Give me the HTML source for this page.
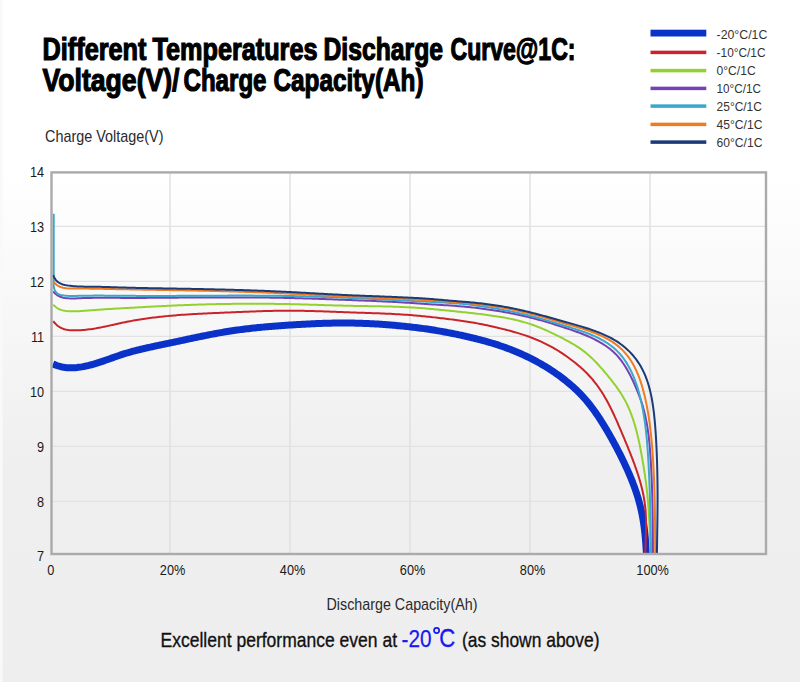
<!DOCTYPE html>
<html><head><meta charset="utf-8">
<style>
html,body{margin:0;padding:0;width:800px;height:682px;overflow:hidden;background:#fff}
svg{display:block}
text{font-family:"Liberation Sans",sans-serif}
.ax{font-size:14.8px;fill:#1a1a1a}
.lg{font-size:12.3px;fill:#333}
.tt{font-size:31.3px;font-weight:bold;fill:#000;stroke:#000;stroke-width:1.2px}
</style></head><body>
<svg width="800" height="682" viewBox="0 0 800 682">
<defs>
<linearGradient id="bg" x1="0" y1="0" x2="0" y2="1">
<stop offset="0" stop-color="#ffffff"/>
<stop offset="0.25" stop-color="#ffffff"/>
<stop offset="0.68" stop-color="#efefef"/>
<stop offset="1" stop-color="#eeeeee"/>
</linearGradient>
<clipPath id="plot"><rect x="52" y="173.5" width="714" height="380.5"/></clipPath>
</defs>
<rect width="800" height="682" fill="url(#bg)"/>
<rect x="0" y="0" width="2.6" height="682" fill="#f9f9f9"/>
<text x="42.5" y="59.8" class="tt" textLength="104.0" lengthAdjust="spacingAndGlyphs">Different</text><text x="152.5" y="59.8" class="tt" textLength="165.0" lengthAdjust="spacingAndGlyphs">Temperatures</text><text x="323.5" y="59.8" class="tt" textLength="119.5" lengthAdjust="spacingAndGlyphs">Discharge</text><text x="450.5" y="59.8" class="tt" textLength="125.0" lengthAdjust="spacingAndGlyphs">Curve@1C:</text><text x="42.5" y="91.0" class="tt" textLength="137.0" lengthAdjust="spacingAndGlyphs">Voltage(V)/</text><text x="183.5" y="91.0" class="tt" textLength="83.0" lengthAdjust="spacingAndGlyphs">Charge</text><text x="273.5" y="91.0" class="tt" textLength="150.0" lengthAdjust="spacingAndGlyphs">Capacity(Ah)</text>
<text x="45" y="142.4" style="font-size:16.2px;fill:#2a2a2a" textLength="118.5" lengthAdjust="spacingAndGlyphs">Charge Voltage(V)</text>
<rect x="650.5" y="29.70" width="55.8" height="6.80" fill="#0a32c8"/><text x="716.6" y="39.0" class="lg" textLength="50.7" lengthAdjust="spacingAndGlyphs">-20°C/1C</text><rect x="650.5" y="50.65" width="55.8" height="3.50" fill="#c8242a"/><text x="716.6" y="57.0" class="lg" textLength="48.9" lengthAdjust="spacingAndGlyphs">-10°C/1C</text><rect x="650.5" y="68.85" width="55.8" height="3.50" fill="#92d130"/><text x="716.6" y="75.0" class="lg" textLength="39.0" lengthAdjust="spacingAndGlyphs">0°C/1C</text><rect x="650.5" y="86.65" width="55.8" height="3.50" fill="#7443b3"/><text x="716.6" y="93.0" class="lg" textLength="44.3" lengthAdjust="spacingAndGlyphs">10°C/1C</text><rect x="650.5" y="104.35" width="55.8" height="3.50" fill="#3ba7cb"/><text x="716.6" y="111.0" class="lg" textLength="45.3" lengthAdjust="spacingAndGlyphs">25°C/1C</text><rect x="650.5" y="122.65" width="55.8" height="3.50" fill="#f07c22"/><text x="716.6" y="129.0" class="lg" textLength="45.8" lengthAdjust="spacingAndGlyphs">45°C/1C</text><rect x="650.5" y="140.35" width="55.8" height="3.50" fill="#1b3a78"/><text x="716.6" y="147.0" class="lg" textLength="45.8" lengthAdjust="spacingAndGlyphs">60°C/1C</text>
<line x1="170.0" y1="173" x2="170.0" y2="553" stroke="#dedede" stroke-width="1.3"/><line x1="290.0" y1="173" x2="290.0" y2="553" stroke="#dedede" stroke-width="1.3"/><line x1="410.0" y1="173" x2="410.0" y2="553" stroke="#dedede" stroke-width="1.3"/><line x1="530.0" y1="173" x2="530.0" y2="553" stroke="#dedede" stroke-width="1.3"/><line x1="650.0" y1="173" x2="650.0" y2="553" stroke="#dedede" stroke-width="1.3"/><line x1="52" y1="501.4" x2="766" y2="501.4" stroke="#e2e2e2" stroke-width="1.2"/><line x1="52" y1="446.4" x2="766" y2="446.4" stroke="#e2e2e2" stroke-width="1.2"/><line x1="52" y1="391.4" x2="766" y2="391.4" stroke="#e2e2e2" stroke-width="1.2"/><line x1="52" y1="336.4" x2="766" y2="336.4" stroke="#e2e2e2" stroke-width="1.2"/><line x1="52" y1="281.4" x2="766" y2="281.4" stroke="#e2e2e2" stroke-width="1.2"/><line x1="52" y1="226.4" x2="766" y2="226.4" stroke="#e2e2e2" stroke-width="1.2"/>
<g clip-path="url(#plot)">
<path d="M52.99,364.03 L54.52,364.62 56.04,365.19 57.58,365.73 59.13,366.22 60.70,366.64 62.29,366.99 63.90,367.28 65.51,367.50 67.14,367.65 68.77,367.75 70.40,367.80 72.03,367.80 73.67,367.75 75.29,367.66 76.92,367.52 78.54,367.34 80.16,367.13 81.78,366.88 83.39,366.59 84.99,366.28 86.60,365.94 88.19,365.57 89.78,365.17 91.37,364.75 92.95,364.32 94.52,363.86 96.08,363.39 97.64,362.90 99.20,362.41 100.75,361.90 102.30,361.38 103.84,360.85 105.38,360.31 106.92,359.77 108.45,359.23 109.99,358.68 111.52,358.14 113.05,357.59 114.59,357.05 116.12,356.51 117.66,355.98 119.20,355.45 120.74,354.94 122.29,354.43 123.83,353.94 125.39,353.46 126.94,352.99 128.50,352.53 130.07,352.09 131.63,351.65 133.20,351.22 134.78,350.81 136.35,350.40 137.93,350.00 139.51,349.61 141.09,349.23 142.68,348.85 144.27,348.48 145.86,348.12 147.45,347.76 149.04,347.40 150.63,347.05 152.23,346.71 153.82,346.37 155.42,346.03 157.02,345.69 158.62,345.35 160.22,345.02 161.82,344.69 163.41,344.35 165.01,344.02 166.61,343.69 168.21,343.35 169.81,343.02 171.41,342.68 173.00,342.34 174.60,342.00 176.20,341.66 177.79,341.32 179.39,340.98 180.98,340.64 182.58,340.30 184.17,339.96 185.77,339.62 187.36,339.28 188.96,338.94 190.55,338.60 192.15,338.26 193.74,337.92 195.34,337.59 196.94,337.26 198.53,336.93 200.13,336.60 201.72,336.27 203.32,335.95 204.92,335.63 206.51,335.31 208.11,335.00 209.71,334.68 211.31,334.38 212.91,334.07 214.51,333.77 216.11,333.48 217.71,333.18 219.31,332.90 220.91,332.61 222.51,332.34 224.12,332.06 225.72,331.80 227.33,331.53 228.93,331.28 230.54,331.03 232.15,330.78 233.76,330.55 235.37,330.31 236.98,330.09 238.59,329.86 240.21,329.65 241.82,329.44 243.44,329.23 245.05,329.03 246.67,328.84 248.29,328.65 249.90,328.46 251.52,328.28 253.14,328.10 254.76,327.93 256.38,327.76 258.00,327.59 259.62,327.43 261.25,327.28 262.87,327.13 264.49,326.98 266.12,326.83 267.74,326.69 269.36,326.55 270.99,326.41 272.61,326.28 274.24,326.15 275.87,326.03 277.49,325.90 279.12,325.78 280.74,325.66 282.37,325.55 284.00,325.43 285.63,325.32 287.25,325.21 288.88,325.10 290.51,324.99 292.14,324.89 293.76,324.79 295.39,324.69 297.02,324.59 298.65,324.49 300.28,324.40 301.90,324.30 303.53,324.21 305.16,324.13 306.79,324.04 308.42,323.96 310.05,323.88 311.67,323.80 313.30,323.73 314.93,323.66 316.56,323.59 318.19,323.53 319.82,323.47 321.45,323.41 323.07,323.36 324.70,323.30 326.33,323.26 327.96,323.21 329.59,323.18 331.22,323.14 332.85,323.11 334.48,323.08 336.10,323.06 337.73,323.04 339.36,323.02 340.99,323.01 342.62,323.01 344.25,323.01 345.88,323.01 347.51,323.02 349.14,323.03 350.76,323.05 352.39,323.08 354.02,323.11 355.65,323.14 357.28,323.18 358.91,323.22 360.54,323.27 362.17,323.32 363.79,323.38 365.42,323.44 367.05,323.51 368.68,323.58 370.31,323.66 371.93,323.74 373.56,323.83 375.19,323.92 376.82,324.01 378.44,324.11 380.07,324.22 381.70,324.33 383.32,324.44 384.95,324.56 386.57,324.68 388.20,324.80 389.82,324.93 391.45,325.07 393.07,325.21 394.70,325.35 396.32,325.50 397.94,325.65 399.57,325.80 401.19,325.96 402.81,326.12 404.43,326.29 406.05,326.46 407.67,326.63 409.29,326.81 410.91,327.00 412.53,327.18 414.15,327.37 415.77,327.57 417.39,327.77 419.00,327.97 420.62,328.18 422.23,328.39 423.85,328.62 425.46,328.84 427.07,329.07 428.69,329.31 430.30,329.55 431.91,329.80 433.52,330.05 435.12,330.31 436.73,330.58 438.34,330.85 439.95,331.12 441.55,331.40 443.15,331.69 444.76,331.98 446.36,332.27 447.96,332.57 449.56,332.88 451.16,333.19 452.76,333.51 454.36,333.83 455.95,334.16 457.55,334.49 459.14,334.83 460.74,335.18 462.33,335.52 463.92,335.88 465.51,336.24 467.10,336.60 468.69,336.97 470.28,337.35 471.86,337.73 473.45,338.11 475.03,338.50 476.61,338.90 478.19,339.30 479.77,339.71 481.35,340.12 482.92,340.54 484.50,340.97 486.07,341.41 487.64,341.85 489.20,342.30 490.77,342.76 492.33,343.23 493.89,343.71 495.44,344.19 496.99,344.69 498.54,345.19 500.09,345.71 501.63,346.23 503.17,346.77 504.71,347.31 506.24,347.87 507.77,348.43 509.30,349.01 510.82,349.59 512.33,350.19 513.85,350.79 515.36,351.41 516.86,352.04 518.36,352.68 519.86,353.32 521.35,353.98 522.84,354.65 524.32,355.33 525.80,356.02 527.27,356.73 528.74,357.44 530.20,358.16 531.66,358.90 533.11,359.64 534.56,360.40 536.00,361.17 537.43,361.95 538.86,362.74 540.29,363.54 541.70,364.35 543.11,365.18 544.52,366.01 545.91,366.86 547.30,367.71 548.69,368.58 550.06,369.46 551.43,370.35 552.79,371.25 554.15,372.16 555.49,373.09 556.83,374.02 558.16,374.97 559.48,375.92 560.79,376.89 562.09,377.87 563.39,378.86 564.68,379.86 565.95,380.88 567.22,381.90 568.48,382.94 569.72,383.99 570.96,385.05 572.18,386.12 573.40,387.21 574.60,388.30 575.79,389.41 576.97,390.53 578.13,391.67 579.28,392.81 580.42,393.97 581.54,395.15 582.65,396.33 583.74,397.53 584.82,398.75 585.89,399.97 586.94,401.21 587.97,402.46 588.99,403.73 590.00,405.00 590.99,406.29 591.97,407.59 592.94,408.89 593.90,410.21 594.85,411.54 595.78,412.87 596.71,414.21 597.62,415.56 598.53,416.92 599.43,418.28 600.32,419.65 601.20,421.02 602.07,422.40 602.94,423.78 603.79,425.17 604.65,426.57 605.49,427.96 606.33,429.36 607.16,430.77 607.98,432.18 608.80,433.59 609.62,435.01 610.42,436.43 611.22,437.85 612.02,439.28 612.81,440.71 613.59,442.14 614.37,443.58 615.15,445.01 615.91,446.45 616.68,447.90 617.43,449.34 618.19,450.79 618.93,452.25 619.67,453.70 620.41,455.16 621.14,456.62 621.86,458.08 622.57,459.55 623.28,461.02 623.99,462.49 624.68,463.96 625.37,465.44 626.06,466.92 626.73,468.41 627.40,469.90 628.06,471.39 628.72,472.88 629.36,474.38 630.00,475.88 630.63,477.38 631.25,478.89 631.86,480.40 632.46,481.91 633.05,483.43 633.63,484.95 634.20,486.48 634.76,488.01 635.30,489.54 635.83,491.08 636.35,492.62 636.85,494.17 637.34,495.72 637.82,497.28 638.28,498.84 638.73,500.40 639.16,501.97 639.58,503.54 639.99,505.11 640.38,506.69 640.75,508.27 641.12,509.85 641.47,511.44 641.80,513.03 642.12,514.63 642.43,516.22 642.72,517.82 642.99,519.42 643.26,521.03 643.51,522.63 643.75,524.24 643.97,525.85 644.19,527.47 644.39,529.08 644.58,530.70 644.76,532.32 644.93,533.94 645.10,535.56 645.25,537.18 645.40,538.81 645.53,540.43 645.66,542.06 645.79,543.69 645.90,545.32 646.01,546.94 646.12,548.57 646.22,550.20 646.32,551.83 646.41,553.46 646.50,555.09 646.59,556.72 646.67,558.35 646.76,559.98" fill="none" stroke="#0a32c8" stroke-width="7.0" stroke-linejoin="round"/><path d="M53.17,321.25 L54.32,322.50 55.49,323.73 56.70,324.89 57.95,325.97 59.28,326.92 60.69,327.74 62.18,328.42 63.73,328.97 65.34,329.42 66.99,329.76 68.68,330.01 70.40,330.18 72.14,330.28 73.89,330.33 75.63,330.33 77.37,330.30 79.09,330.24 80.80,330.15 82.49,330.04 84.17,329.90 85.84,329.74 87.50,329.56 89.16,329.36 90.80,329.14 92.44,328.90 94.08,328.64 95.72,328.37 97.35,328.08 98.98,327.78 100.62,327.47 102.25,327.14 103.89,326.81 105.52,326.46 107.16,326.11 108.79,325.75 110.43,325.39 112.07,325.03 113.71,324.66 115.34,324.30 116.98,323.93 118.62,323.57 120.26,323.21 121.91,322.85 123.55,322.50 125.19,322.16 126.83,321.83 128.48,321.51 130.12,321.19 131.77,320.89 133.42,320.59 135.07,320.30 136.72,320.01 138.37,319.74 140.02,319.47 141.67,319.21 143.33,318.96 144.98,318.72 146.64,318.48 148.30,318.25 149.96,318.03 151.62,317.81 153.28,317.60 154.95,317.40 156.61,317.20 158.28,317.01 159.94,316.82 161.61,316.64 163.27,316.47 164.94,316.30 166.61,316.13 168.27,315.97 169.94,315.82 171.61,315.67 173.28,315.53 174.95,315.39 176.62,315.25 178.29,315.12 179.96,315.00 181.63,314.87 183.30,314.76 184.97,314.64 186.64,314.53 188.31,314.42 189.98,314.32 191.65,314.22 193.32,314.12 195.00,314.02 196.67,313.93 198.34,313.84 200.01,313.75 201.68,313.66 203.36,313.58 205.03,313.50 206.70,313.42 208.38,313.34 210.05,313.26 211.72,313.19 213.40,313.11 215.07,313.04 216.74,312.97 218.42,312.90 220.09,312.82 221.77,312.75 223.44,312.68 225.11,312.61 226.79,312.55 228.46,312.48 230.14,312.41 231.81,312.34 233.48,312.26 235.16,312.19 236.83,312.12 238.51,312.05 240.18,311.98 241.85,311.91 243.53,311.85 245.20,311.78 246.87,311.71 248.55,311.64 250.22,311.58 251.90,311.51 253.57,311.45 255.24,311.39 256.92,311.33 258.59,311.27 260.27,311.22 261.94,311.16 263.61,311.11 265.29,311.06 266.96,311.02 268.64,310.97 270.31,310.93 271.98,310.89 273.66,310.86 275.33,310.82 277.00,310.80 278.68,310.77 280.35,310.75 282.03,310.73 283.70,310.71 285.37,310.70 287.05,310.70 288.72,310.69 290.39,310.69 292.07,310.70 293.74,310.71 295.42,310.72 297.09,310.74 298.76,310.76 300.44,310.79 302.11,310.82 303.78,310.85 305.46,310.88 307.13,310.92 308.81,310.96 310.48,311.00 312.15,311.05 313.83,311.10 315.50,311.15 317.18,311.20 318.85,311.25 320.52,311.31 322.20,311.37 323.87,311.43 325.54,311.49 327.22,311.55 328.89,311.61 330.57,311.67 332.24,311.73 333.91,311.80 335.59,311.86 337.26,311.92 338.94,311.99 340.61,312.05 342.29,312.11 343.96,312.17 345.63,312.23 347.31,312.30 348.98,312.35 350.66,312.41 352.33,312.47 354.01,312.53 355.68,312.58 357.35,312.64 359.03,312.69 360.70,312.74 362.38,312.80 364.05,312.85 365.73,312.90 367.40,312.96 369.08,313.01 370.75,313.07 372.42,313.13 374.10,313.18 375.77,313.24 377.45,313.30 379.12,313.37 380.79,313.43 382.47,313.50 384.14,313.57 385.81,313.64 387.49,313.71 389.16,313.79 390.83,313.87 392.50,313.95 394.18,314.04 395.85,314.13 397.52,314.22 399.19,314.32 400.86,314.42 402.53,314.52 404.20,314.63 405.87,314.75 407.54,314.87 409.21,314.99 410.88,315.12 412.55,315.26 414.22,315.40 415.88,315.54 417.55,315.69 419.22,315.84 420.89,316.00 422.55,316.16 424.22,316.32 425.89,316.49 427.55,316.66 429.22,316.83 430.89,317.01 432.55,317.19 434.22,317.37 435.88,317.56 437.54,317.75 439.21,317.94 440.87,318.14 442.53,318.34 444.20,318.54 445.86,318.74 447.52,318.95 449.18,319.16 450.84,319.37 452.50,319.59 454.16,319.81 455.82,320.03 457.48,320.26 459.14,320.48 460.79,320.71 462.45,320.95 464.11,321.18 465.76,321.43 467.42,321.67 469.07,321.93 470.72,322.20 472.37,322.47 474.02,322.76 475.66,323.05 477.31,323.36 478.95,323.67 480.60,323.99 482.24,324.31 483.88,324.65 485.52,324.99 487.15,325.34 488.79,325.69 490.43,326.06 492.06,326.42 493.70,326.80 495.33,327.18 496.96,327.56 498.59,327.95 500.22,328.35 501.85,328.74 503.48,329.15 505.11,329.56 506.74,329.97 508.36,330.40 509.98,330.83 511.60,331.26 513.22,331.71 514.83,332.17 516.44,332.63 518.05,333.11 519.66,333.60 521.25,334.09 522.85,334.61 524.44,335.13 526.03,335.67 527.61,336.22 529.18,336.78 530.75,337.37 532.31,337.96 533.87,338.58 535.42,339.20 536.97,339.85 538.50,340.51 540.03,341.18 541.56,341.87 543.07,342.58 544.58,343.30 546.08,344.04 547.57,344.79 549.05,345.56 550.53,346.35 552.00,347.15 553.45,347.96 554.90,348.80 556.34,349.65 557.77,350.51 559.19,351.39 560.59,352.29 561.99,353.20 563.38,354.13 564.76,355.08 566.12,356.04 567.48,357.01 568.83,357.99 570.17,358.99 571.51,360.00 572.83,361.01 574.15,362.04 575.46,363.08 576.76,364.13 578.05,365.19 579.32,366.27 580.58,367.36 581.83,368.47 583.06,369.59 584.28,370.73 585.47,371.89 586.65,373.07 587.81,374.27 588.95,375.48 590.07,376.71 591.18,377.96 592.27,379.22 593.33,380.50 594.38,381.80 595.42,383.11 596.43,384.43 597.43,385.77 598.40,387.12 599.36,388.49 600.30,389.87 601.22,391.26 602.13,392.66 603.02,394.08 603.88,395.50 604.74,396.94 605.57,398.39 606.40,399.84 607.20,401.31 608.00,402.78 608.78,404.26 609.55,405.75 610.31,407.24 611.05,408.74 611.79,410.24 612.51,411.75 613.23,413.27 613.94,414.79 614.64,416.32 615.33,417.85 616.02,419.38 616.70,420.91 617.38,422.45 618.05,423.99 618.72,425.54 619.38,427.08 620.04,428.63 620.70,430.18 621.36,431.72 622.01,433.27 622.67,434.82 623.32,436.37 623.97,437.92 624.62,439.47 625.26,441.02 625.90,442.57 626.54,444.12 627.18,445.68 627.81,447.23 628.44,448.79 629.07,450.35 629.69,451.91 630.31,453.47 630.92,455.03 631.53,456.60 632.13,458.17 632.73,459.73 633.32,461.31 633.91,462.88 634.49,464.46 635.06,466.03 635.62,467.61 636.18,469.20 636.72,470.78 637.26,472.37 637.78,473.96 638.30,475.56 638.80,477.15 639.29,478.75 639.76,480.36 640.23,481.96 640.67,483.57 641.11,485.19 641.53,486.80 641.93,488.42 642.31,490.05 642.68,491.67 643.03,493.31 643.36,494.94 643.68,496.58 643.97,498.22 644.25,499.86 644.50,501.51 644.74,503.16 644.95,504.81 645.14,506.46 645.32,508.12 645.47,509.78 645.60,511.44 645.71,513.10 645.80,514.77 645.87,516.44 645.93,518.11 645.97,519.78 646.00,521.45 646.02,523.12 646.03,524.80 646.02,526.47 646.01,528.15 645.98,529.82 645.95,531.50 645.92,533.17 645.88,534.85 645.83,536.53 645.78,538.20 645.73,539.88 645.67,541.56 645.62,543.24 645.56,544.91 645.50,546.59 645.44,548.27 645.38,549.94 645.32,551.62 645.26,553.30 645.20,554.97 645.15,556.65 645.09,558.33 645.04,560.00" fill="none" stroke="#c8242a" stroke-width="2.0" stroke-linejoin="round"/><path d="M53.16,304.68 L54.42,305.86 55.71,306.98 57.06,308.01 58.49,308.88 60.01,309.57 61.62,310.10 63.28,310.50 64.99,310.79 66.73,310.99 68.48,311.13 70.22,311.22 71.95,311.28 73.68,311.29 75.40,311.28 77.12,311.24 78.83,311.18 80.54,311.09 82.24,310.98 83.94,310.86 85.64,310.73 87.34,310.60 89.04,310.45 90.74,310.31 92.44,310.17 94.14,310.03 95.84,309.90 97.54,309.77 99.24,309.65 100.95,309.53 102.66,309.42 104.36,309.30 106.07,309.19 107.78,309.09 109.49,308.98 111.20,308.88 112.91,308.78 114.62,308.68 116.33,308.58 118.04,308.49 119.75,308.39 121.46,308.30 123.17,308.20 124.88,308.11 126.59,308.01 128.30,307.92 130.01,307.82 131.72,307.72 133.42,307.63 135.13,307.53 136.84,307.44 138.55,307.34 140.26,307.25 141.97,307.15 143.68,307.06 145.38,306.96 147.09,306.87 148.80,306.78 150.51,306.69 152.21,306.60 153.92,306.50 155.63,306.42 157.34,306.33 159.05,306.24 160.75,306.15 162.46,306.07 164.17,305.98 165.88,305.90 167.59,305.82 169.30,305.74 171.00,305.66 172.71,305.58 174.42,305.51 176.13,305.44 177.84,305.36 179.55,305.29 181.26,305.22 182.97,305.15 184.68,305.09 186.39,305.02 188.10,304.96 189.81,304.90 191.52,304.84 193.23,304.78 194.94,304.72 196.65,304.67 198.36,304.61 200.07,304.56 201.78,304.51 203.49,304.46 205.20,304.41 206.91,304.37 208.62,304.32 210.33,304.28 212.04,304.24 213.75,304.20 215.46,304.16 217.17,304.12 218.88,304.09 220.60,304.06 222.31,304.03 224.02,304.00 225.73,303.97 227.44,303.94 229.15,303.92 230.86,303.89 232.57,303.87 234.28,303.85 236.00,303.83 237.71,303.81 239.42,303.80 241.13,303.79 242.84,303.77 244.55,303.76 246.26,303.76 247.98,303.75 249.69,303.74 251.40,303.74 253.11,303.74 254.82,303.74 256.53,303.74 258.24,303.75 259.96,303.75 261.67,303.76 263.38,303.77 265.09,303.78 266.80,303.79 268.51,303.80 270.22,303.82 271.93,303.84 273.64,303.86 275.36,303.88 277.07,303.90 278.78,303.93 280.49,303.95 282.20,303.98 283.91,304.01 285.62,304.04 287.33,304.08 289.04,304.11 290.75,304.15 292.46,304.19 294.17,304.23 295.88,304.27 297.59,304.32 299.30,304.36 301.02,304.41 302.73,304.45 304.44,304.50 306.15,304.55 307.86,304.60 309.57,304.65 311.28,304.71 312.99,304.76 314.70,304.81 316.41,304.86 318.12,304.92 319.83,304.97 321.54,305.02 323.25,305.08 324.96,305.13 326.67,305.18 328.38,305.23 330.09,305.28 331.80,305.34 333.51,305.39 335.22,305.43 336.93,305.48 338.64,305.53 340.35,305.58 342.06,305.62 343.77,305.66 345.48,305.71 347.19,305.75 348.90,305.78 350.61,305.82 352.32,305.86 354.03,305.89 355.75,305.92 357.46,305.95 359.17,305.98 360.88,306.01 362.59,306.04 364.30,306.07 366.01,306.09 367.72,306.12 369.44,306.15 371.15,306.18 372.86,306.21 374.57,306.24 376.28,306.27 377.99,306.30 379.70,306.33 381.41,306.37 383.12,306.40 384.83,306.44 386.54,306.49 388.25,306.53 389.96,306.58 391.67,306.62 393.38,306.68 395.09,306.73 396.80,306.79 398.51,306.85 400.22,306.92 401.93,306.99 403.64,307.07 405.34,307.15 407.05,307.23 408.76,307.32 410.47,307.41 412.17,307.51 413.88,307.62 415.59,307.73 417.29,307.84 419.00,307.96 420.70,308.09 422.41,308.21 424.11,308.35 425.82,308.49 427.52,308.63 429.23,308.77 430.93,308.92 432.63,309.07 434.34,309.23 436.04,309.39 437.74,309.55 439.45,309.71 441.15,309.88 442.85,310.05 444.55,310.22 446.26,310.39 447.96,310.57 449.66,310.74 451.37,310.92 453.07,311.10 454.77,311.28 456.47,311.46 458.18,311.64 459.88,311.82 461.58,312.00 463.28,312.18 464.99,312.36 466.69,312.54 468.39,312.72 470.10,312.91 471.80,313.10 473.50,313.29 475.20,313.48 476.91,313.68 478.61,313.88 480.31,314.08 482.01,314.29 483.71,314.50 485.41,314.72 487.11,314.95 488.80,315.18 490.50,315.41 492.20,315.65 493.89,315.90 495.58,316.16 497.27,316.43 498.97,316.70 500.65,316.98 502.34,317.27 504.03,317.57 505.71,317.88 507.39,318.20 509.07,318.53 510.75,318.87 512.42,319.23 514.09,319.60 515.76,319.98 517.42,320.38 519.08,320.79 520.73,321.22 522.38,321.66 524.02,322.12 525.66,322.60 527.30,323.10 528.92,323.61 530.55,324.14 532.16,324.70 533.77,325.27 535.38,325.86 536.98,326.46 538.57,327.09 540.16,327.72 541.74,328.38 543.32,329.05 544.89,329.73 546.46,330.42 548.02,331.13 549.58,331.85 551.13,332.58 552.68,333.32 554.22,334.07 555.76,334.83 557.30,335.60 558.83,336.37 560.35,337.15 561.87,337.94 563.39,338.73 564.91,339.53 566.41,340.34 567.92,341.15 569.41,341.97 570.90,342.80 572.38,343.65 573.85,344.51 575.30,345.39 576.74,346.28 578.16,347.20 579.57,348.14 580.96,349.10 582.33,350.09 583.68,351.11 585.01,352.15 586.32,353.22 587.61,354.31 588.89,355.43 590.15,356.56 591.39,357.72 592.62,358.90 593.83,360.09 595.03,361.30 596.22,362.53 597.39,363.78 598.56,365.03 599.71,366.30 600.86,367.58 601.99,368.87 603.12,370.17 604.23,371.48 605.35,372.80 606.45,374.12 607.55,375.44 608.64,376.77 609.73,378.11 610.81,379.45 611.88,380.80 612.93,382.16 613.98,383.52 615.01,384.89 616.03,386.27 617.03,387.66 618.02,389.06 618.99,390.46 619.94,391.88 620.87,393.31 621.77,394.75 622.66,396.21 623.52,397.67 624.36,399.15 625.17,400.64 625.95,402.15 626.72,403.67 627.45,405.20 628.16,406.74 628.85,408.30 629.52,409.86 630.17,411.44 630.79,413.02 631.40,414.62 631.98,416.22 632.55,417.83 633.10,419.45 633.63,421.07 634.14,422.70 634.64,424.34 635.12,425.98 635.58,427.63 636.04,429.28 636.47,430.94 636.90,432.60 637.31,434.26 637.71,435.93 638.10,437.60 638.48,439.27 638.85,440.95 639.21,442.62 639.56,444.30 639.90,445.98 640.24,447.67 640.56,449.35 640.88,451.04 641.20,452.73 641.51,454.41 641.82,456.10 642.12,457.79 642.41,459.48 642.71,461.17 642.99,462.86 643.28,464.55 643.56,466.24 643.83,467.94 644.10,469.63 644.36,471.32 644.62,473.01 644.87,474.71 645.11,476.40 645.35,478.10 645.59,479.79 645.81,481.49 646.03,483.19 646.24,484.88 646.45,486.58 646.65,488.28 646.84,489.98 647.03,491.68 647.20,493.38 647.38,495.09 647.54,496.79 647.70,498.49 647.86,500.19 648.01,501.90 648.15,503.60 648.29,505.31 648.42,507.01 648.55,508.72 648.67,510.43 648.79,512.13 648.90,513.84 649.01,515.55 649.11,517.25 649.21,518.96 649.31,520.67 649.40,522.38 649.49,524.09 649.57,525.80 649.65,527.50 649.73,529.21 649.80,530.92 649.87,532.63 649.94,534.34 650.00,536.05 650.06,537.76 650.12,539.47 650.17,541.18 650.22,542.89 650.27,544.60 650.32,546.31 650.36,548.02 650.40,549.73 650.44,551.44 650.48,553.16 650.52,554.87 650.55,556.58 650.58,558.29 650.62,560.00" fill="none" stroke="#92d130" stroke-width="2.0" stroke-linejoin="round"/><path d="M53.15,291.48 L54.40,292.74 55.68,293.95 57.03,295.04 58.48,295.97 60.04,296.71 61.69,297.28 63.40,297.70 65.15,298.00 66.91,298.21 68.67,298.35 70.43,298.43 72.19,298.45 73.95,298.43 75.71,298.39 77.47,298.32 79.23,298.25 80.99,298.18 82.74,298.11 84.50,298.06 86.26,298.01 88.01,297.97 89.77,297.93 91.53,297.90 93.28,297.87 95.04,297.85 96.79,297.83 98.55,297.82 100.30,297.81 102.06,297.81 103.81,297.81 105.57,297.81 107.32,297.81 109.08,297.82 110.83,297.83 112.59,297.83 114.34,297.84 116.09,297.85 117.85,297.86 119.60,297.87 121.36,297.88 123.11,297.89 124.87,297.90 126.62,297.90 128.38,297.91 130.13,297.91 131.89,297.91 133.64,297.91 135.40,297.91 137.15,297.91 138.91,297.90 140.66,297.90 142.42,297.89 144.17,297.88 145.93,297.88 147.68,297.87 149.44,297.86 151.19,297.85 152.95,297.83 154.70,297.82 156.46,297.81 158.22,297.80 159.97,297.78 161.73,297.77 163.48,297.75 165.24,297.74 166.99,297.73 168.75,297.71 170.50,297.70 172.26,297.68 174.02,297.67 175.77,297.65 177.53,297.64 179.28,297.62 181.04,297.61 182.79,297.60 184.55,297.58 186.31,297.57 188.06,297.56 189.82,297.54 191.57,297.53 193.33,297.52 195.08,297.51 196.84,297.49 198.59,297.48 200.35,297.47 202.11,297.46 203.86,297.45 205.62,297.44 207.37,297.43 209.13,297.43 210.88,297.42 212.64,297.41 214.39,297.41 216.15,297.40 217.90,297.39 219.66,297.39 221.42,297.39 223.17,297.38 224.93,297.38 226.68,297.38 228.44,297.38 230.19,297.38 231.95,297.38 233.70,297.38 235.46,297.38 237.21,297.38 238.97,297.39 240.72,297.39 242.48,297.40 244.24,297.41 245.99,297.42 247.75,297.42 249.50,297.44 251.26,297.45 253.01,297.46 254.77,297.47 256.52,297.49 258.28,297.50 260.03,297.52 261.79,297.54 263.54,297.56 265.30,297.58 267.05,297.60 268.81,297.62 270.56,297.65 272.32,297.68 274.07,297.70 275.83,297.73 277.58,297.76 279.34,297.79 281.09,297.83 282.85,297.86 284.60,297.90 286.36,297.94 288.11,297.98 289.86,298.02 291.62,298.06 293.37,298.10 295.13,298.15 296.88,298.20 298.64,298.25 300.39,298.30 302.15,298.35 303.90,298.40 305.66,298.45 307.41,298.51 309.16,298.56 310.92,298.62 312.67,298.68 314.43,298.74 316.18,298.80 317.94,298.86 319.69,298.92 321.44,298.98 323.20,299.05 324.95,299.11 326.71,299.17 328.46,299.24 330.22,299.30 331.97,299.37 333.72,299.44 335.48,299.50 337.23,299.57 338.99,299.64 340.74,299.70 342.49,299.77 344.25,299.84 346.00,299.91 347.76,299.97 349.51,300.04 351.27,300.11 353.02,300.17 354.77,300.24 356.53,300.31 358.28,300.38 360.04,300.44 361.79,300.51 363.54,300.58 365.30,300.65 367.05,300.72 368.81,300.79 370.56,300.86 372.31,300.94 374.07,301.01 375.82,301.08 377.57,301.16 379.33,301.24 381.08,301.32 382.83,301.40 384.59,301.48 386.34,301.56 388.09,301.65 389.84,301.74 391.60,301.83 393.35,301.92 395.10,302.01 396.85,302.11 398.60,302.21 400.36,302.31 402.11,302.41 403.86,302.52 405.61,302.63 407.36,302.74 409.11,302.86 410.86,302.98 412.61,303.10 414.36,303.22 416.11,303.34 417.86,303.46 419.61,303.59 421.36,303.70 423.11,303.82 424.86,303.93 426.61,304.05 428.37,304.16 430.12,304.27 431.87,304.38 433.62,304.48 435.37,304.59 437.13,304.70 438.88,304.81 440.63,304.92 442.38,305.03 444.13,305.14 445.89,305.25 447.64,305.37 449.39,305.49 451.14,305.61 452.89,305.74 454.64,305.87 456.39,306.00 458.14,306.14 459.89,306.28 461.64,306.43 463.39,306.58 465.13,306.74 466.88,306.91 468.63,307.08 470.37,307.26 472.12,307.44 473.86,307.63 475.61,307.83 477.35,308.04 479.09,308.25 480.83,308.47 482.57,308.70 484.31,308.93 486.05,309.17 487.79,309.42 489.52,309.67 491.26,309.93 493.00,310.19 494.73,310.46 496.46,310.74 498.19,311.02 499.93,311.31 501.66,311.60 503.39,311.91 505.11,312.21 506.84,312.53 508.57,312.84 510.29,313.17 512.01,313.50 513.73,313.85 515.45,314.19 517.17,314.55 518.89,314.91 520.60,315.28 522.32,315.66 524.03,316.05 525.74,316.45 527.44,316.85 529.15,317.27 530.85,317.69 532.55,318.12 534.25,318.56 535.95,319.01 537.65,319.47 539.34,319.94 541.03,320.41 542.72,320.89 544.41,321.38 546.10,321.87 547.79,322.37 549.48,322.88 551.17,323.40 552.85,323.91 554.54,324.44 556.22,324.97 557.90,325.50 559.59,326.04 561.27,326.58 562.96,327.13 564.64,327.68 566.32,328.23 568.01,328.79 569.69,329.35 571.37,329.92 573.04,330.50 574.71,331.09 576.38,331.69 578.04,332.30 579.70,332.92 581.35,333.55 583.00,334.20 584.63,334.86 586.26,335.54 587.88,336.23 589.48,336.94 591.08,337.67 592.67,338.42 594.24,339.20 595.80,339.99 597.35,340.81 598.88,341.65 600.40,342.51 601.90,343.40 603.38,344.32 604.83,345.26 606.27,346.23 607.67,347.24 609.06,348.27 610.41,349.33 611.74,350.43 613.03,351.56 614.29,352.72 615.52,353.92 616.71,355.16 617.86,356.42 618.98,357.73 620.07,359.06 621.13,360.43 622.15,361.82 623.15,363.24 624.11,364.68 625.06,366.15 625.97,367.63 626.87,369.13 627.74,370.65 628.59,372.19 629.42,373.74 630.23,375.30 631.02,376.87 631.80,378.46 632.56,380.05 633.30,381.65 634.03,383.26 634.74,384.88 635.45,386.50 636.14,388.12 636.82,389.75 637.49,391.39 638.15,393.02 638.80,394.66 639.43,396.30 640.04,397.95 640.63,399.60 641.21,401.26 641.76,402.92 642.29,404.59 642.80,406.27 643.28,407.95 643.74,409.64 644.18,411.33 644.60,413.03 645.01,414.74 645.39,416.44 645.75,418.16 646.10,419.87 646.43,421.59 646.74,423.31 647.04,425.04 647.33,426.77 647.60,428.50 647.86,430.24 648.10,431.97 648.33,433.71 648.55,435.45 648.76,437.19 648.96,438.94 649.15,440.68 649.33,442.43 649.50,444.18 649.66,445.93 649.81,447.68 649.96,449.43 650.10,451.19 650.23,452.94 650.36,454.69 650.48,456.45 650.60,458.20 650.71,459.96 650.82,461.71 650.92,463.47 651.02,465.22 651.12,466.97 651.22,468.73 651.31,470.48 651.39,472.24 651.48,473.99 651.56,475.75 651.63,477.50 651.71,479.26 651.78,481.02 651.84,482.77 651.91,484.53 651.97,486.28 652.03,488.04 652.09,489.79 652.14,491.55 652.19,493.30 652.24,495.06 652.29,496.81 652.33,498.57 652.37,500.32 652.41,502.08 652.45,503.83 652.49,505.59 652.52,507.34 652.55,509.10 652.58,510.85 652.61,512.61 652.64,514.36 652.66,516.12 652.68,517.87 652.71,519.63 652.73,521.38 652.74,523.14 652.76,524.90 652.78,526.65 652.79,528.41 652.81,530.16 652.82,531.92 652.83,533.67 652.84,535.43 652.85,537.18 652.86,538.94 652.87,540.69 652.87,542.45 652.88,544.20 652.89,545.96 652.89,547.71 652.90,549.47 652.90,551.22 652.90,552.98 652.91,554.73 652.91,556.49 652.92,558.24 652.92,560.00" fill="none" stroke="#7443b3" stroke-width="2.0" stroke-linejoin="round"/><path d="M53.70,213.80 L53.70,286.00 L53.57,286.09 53.99,287.86 54.50,289.57 55.21,291.13 56.20,292.48 57.46,293.59 58.94,294.41 60.59,294.99 62.34,295.36 64.15,295.60 65.97,295.75 67.78,295.86 69.57,295.92 71.35,295.95 73.12,295.95 74.88,295.93 76.64,295.90 78.40,295.85 80.16,295.81 81.92,295.77 83.67,295.73 85.43,295.70 87.20,295.68 88.96,295.65 90.72,295.64 92.49,295.63 94.25,295.62 96.02,295.61 97.79,295.61 99.55,295.61 101.32,295.62 103.09,295.62 104.86,295.63 106.63,295.64 108.40,295.65 110.17,295.67 111.94,295.68 113.72,295.70 115.49,295.71 117.26,295.73 119.03,295.75 120.80,295.76 122.57,295.78 124.34,295.79 126.11,295.81 127.88,295.82 129.65,295.84 131.42,295.85 133.19,295.86 134.96,295.87 136.73,295.88 138.50,295.88 140.26,295.89 142.03,295.90 143.80,295.90 145.57,295.91 147.33,295.91 149.10,295.92 150.87,295.92 152.63,295.92 154.40,295.92 156.17,295.92 157.93,295.92 159.70,295.92 161.47,295.92 163.23,295.92 165.00,295.91 166.77,295.91 168.53,295.90 170.30,295.90 172.06,295.89 173.83,295.89 175.60,295.88 177.37,295.87 179.13,295.87 180.90,295.86 182.67,295.85 184.43,295.84 186.20,295.83 187.97,295.82 189.73,295.81 191.50,295.80 193.27,295.80 195.04,295.79 196.80,295.78 198.57,295.77 200.34,295.76 202.11,295.75 203.87,295.74 205.64,295.73 207.41,295.72 209.18,295.71 210.94,295.70 212.71,295.69 214.48,295.68 216.25,295.67 218.01,295.66 219.78,295.65 221.55,295.65 223.32,295.64 225.08,295.63 226.85,295.63 228.62,295.62 230.39,295.62 232.16,295.61 233.92,295.61 235.69,295.61 237.46,295.60 239.23,295.60 240.99,295.60 242.76,295.60 244.53,295.60 246.30,295.60 248.07,295.61 249.83,295.61 251.60,295.61 253.37,295.62 255.14,295.63 256.91,295.63 258.67,295.64 260.44,295.65 262.21,295.66 263.98,295.68 265.74,295.69 267.51,295.70 269.28,295.72 271.05,295.74 272.81,295.76 274.58,295.78 276.35,295.80 278.12,295.82 279.88,295.85 281.65,295.87 283.42,295.90 285.19,295.93 286.95,295.96 288.72,295.99 290.49,296.03 292.26,296.07 294.02,296.10 295.79,296.14 297.56,296.18 299.32,296.23 301.09,296.27 302.86,296.32 304.63,296.37 306.39,296.42 308.16,296.47 309.93,296.52 311.69,296.57 313.46,296.63 315.23,296.68 316.99,296.74 318.76,296.80 320.53,296.86 322.29,296.92 324.06,296.98 325.83,297.04 327.59,297.11 329.36,297.17 331.12,297.24 332.89,297.30 334.66,297.37 336.42,297.44 338.19,297.51 339.96,297.58 341.72,297.65 343.49,297.72 345.25,297.79 347.02,297.87 348.78,297.94 350.55,298.01 352.32,298.09 354.08,298.16 355.85,298.24 357.61,298.31 359.38,298.39 361.14,298.47 362.91,298.54 364.68,298.62 366.44,298.70 368.21,298.78 369.97,298.86 371.74,298.94 373.50,299.02 375.27,299.10 377.03,299.18 378.80,299.27 380.56,299.35 382.33,299.43 384.10,299.52 385.86,299.60 387.63,299.69 389.39,299.78 391.16,299.86 392.92,299.95 394.69,300.04 396.45,300.13 398.22,300.22 399.98,300.31 401.75,300.40 403.52,300.49 405.28,300.58 407.05,300.67 408.81,300.77 410.58,300.86 412.34,300.95 414.11,301.05 415.87,301.14 417.64,301.24 419.41,301.33 421.17,301.42 422.94,301.51 424.71,301.59 426.47,301.68 428.24,301.76 430.01,301.85 431.77,301.94 433.54,302.02 435.30,302.11 437.07,302.20 438.84,302.29 440.60,302.39 442.37,302.48 444.13,302.58 445.90,302.69 447.66,302.80 449.43,302.91 451.19,303.03 452.95,303.15 454.71,303.28 456.48,303.42 458.24,303.56 460.00,303.71 461.75,303.86 463.51,304.03 465.27,304.20 467.03,304.38 468.78,304.57 470.54,304.78 472.29,304.99 474.04,305.21 475.79,305.44 477.54,305.67 479.29,305.92 481.04,306.17 482.79,306.44 484.53,306.71 486.28,306.98 488.02,307.26 489.77,307.55 491.51,307.85 493.25,308.15 494.99,308.46 496.73,308.77 498.47,309.08 500.21,309.40 501.95,309.72 503.68,310.05 505.42,310.38 507.15,310.72 508.89,311.06 510.62,311.41 512.35,311.76 514.08,312.12 515.81,312.48 517.54,312.85 519.26,313.23 520.99,313.62 522.71,314.01 524.43,314.41 526.15,314.82 527.86,315.24 529.58,315.67 531.29,316.11 533.00,316.55 534.71,317.00 536.41,317.47 538.12,317.93 539.82,318.41 541.52,318.89 543.22,319.38 544.92,319.87 546.62,320.37 548.32,320.87 550.02,321.38 551.72,321.89 553.42,322.40 555.13,322.91 556.83,323.43 558.53,323.94 560.23,324.46 561.94,324.98 563.64,325.50 565.35,326.01 567.06,326.53 568.77,327.05 570.48,327.57 572.18,328.09 573.89,328.62 575.59,329.16 577.29,329.71 578.98,330.26 580.67,330.83 582.36,331.41 584.04,332.00 585.71,332.61 587.37,333.24 589.02,333.88 590.66,334.54 592.30,335.22 593.92,335.93 595.53,336.66 597.12,337.41 598.71,338.19 600.27,338.99 601.82,339.82 603.35,340.69 604.86,341.58 606.35,342.50 607.81,343.45 609.25,344.44 610.66,345.46 612.03,346.51 613.38,347.60 614.70,348.72 615.98,349.89 617.22,351.09 618.43,352.33 619.60,353.60 620.74,354.91 621.84,356.25 622.91,357.62 623.94,359.02 624.94,360.45 625.91,361.90 626.85,363.38 627.75,364.89 628.62,366.41 629.46,367.96 630.28,369.52 631.06,371.10 631.81,372.70 632.54,374.31 633.24,375.94 633.92,377.58 634.57,379.23 635.20,380.89 635.81,382.57 636.39,384.25 636.95,385.93 637.49,387.63 638.01,389.33 638.52,391.03 639.00,392.75 639.46,394.46 639.91,396.18 640.34,397.91 640.76,399.64 641.16,401.37 641.54,403.10 641.91,404.84 642.26,406.58 642.61,408.32 642.93,410.06 643.25,411.80 643.55,413.55 643.84,415.30 644.12,417.05 644.39,418.80 644.64,420.55 644.89,422.31 645.13,424.06 645.35,425.82 645.57,427.58 645.78,429.33 645.98,431.09 646.17,432.85 646.36,434.61 646.53,436.37 646.70,438.13 646.87,439.89 647.02,441.65 647.17,443.42 647.32,445.18 647.46,446.94 647.59,448.71 647.72,450.47 647.84,452.23 647.96,454.00 648.07,455.76 648.19,457.53 648.29,459.29 648.40,461.06 648.50,462.82 648.59,464.59 648.69,466.35 648.78,468.12 648.87,469.88 648.95,471.65 649.03,473.42 649.11,475.18 649.19,476.95 649.27,478.71 649.34,480.48 649.41,482.25 649.48,484.01 649.54,485.78 649.61,487.55 649.67,489.31 649.73,491.08 649.79,492.85 649.85,494.61 649.90,496.38 649.96,498.15 650.01,499.91 650.06,501.68 650.11,503.45 650.16,505.21 650.21,506.98 650.25,508.75 650.29,510.52 650.34,512.28 650.38,514.05 650.42,515.82 650.46,517.58 650.50,519.35 650.53,521.12 650.57,522.89 650.60,524.65 650.63,526.42 650.66,528.19 650.69,529.95 650.72,531.72 650.75,533.49 650.78,535.26 650.80,537.02 650.83,538.79 650.85,540.56 650.87,542.33 650.89,544.09 650.91,545.86 650.93,547.63 650.95,549.40 650.97,551.16 650.99,552.93 651.00,554.70 651.02,556.46 651.03,558.23 651.05,560.00" fill="none" stroke="#3ba7cb" stroke-width="2.0" stroke-linejoin="round"/><path d="M53.13,281.10 L54.25,282.49 55.43,283.81 56.72,284.98 58.16,285.95 59.74,286.71 61.41,287.30 63.13,287.74 64.87,288.06 66.64,288.28 68.42,288.42 70.21,288.49 72.00,288.52 73.80,288.53 75.60,288.53 77.39,288.54 79.19,288.54 80.98,288.56 82.76,288.57 84.55,288.59 86.33,288.60 88.11,288.62 89.89,288.65 91.67,288.67 93.45,288.70 95.22,288.72 97.00,288.75 98.77,288.78 100.54,288.81 102.31,288.84 104.08,288.88 105.85,288.91 107.62,288.95 109.39,288.98 111.16,289.02 112.92,289.05 114.69,289.09 116.46,289.13 118.23,289.16 120.00,289.20 121.76,289.23 123.53,289.27 125.30,289.31 127.07,289.34 128.84,289.37 130.61,289.41 132.39,289.44 134.16,289.48 135.93,289.51 137.71,289.54 139.48,289.57 141.26,289.60 143.03,289.63 144.81,289.67 146.58,289.70 148.36,289.73 150.14,289.76 151.91,289.79 153.69,289.82 155.47,289.85 157.24,289.88 159.02,289.91 160.80,289.94 162.58,289.97 164.36,290.00 166.13,290.03 167.91,290.06 169.69,290.09 171.47,290.13 173.24,290.16 175.02,290.19 176.80,290.22 178.58,290.25 180.35,290.29 182.13,290.32 183.91,290.35 185.68,290.39 187.46,290.42 189.24,290.46 191.01,290.49 192.79,290.53 194.57,290.56 196.34,290.60 198.12,290.64 199.89,290.67 201.67,290.71 203.45,290.75 205.22,290.79 207.00,290.83 208.77,290.87 210.55,290.91 212.32,290.95 214.10,290.99 215.87,291.03 217.65,291.08 219.43,291.12 221.20,291.17 222.98,291.21 224.75,291.26 226.53,291.31 228.30,291.35 230.08,291.40 231.85,291.45 233.62,291.50 235.40,291.55 237.17,291.60 238.95,291.66 240.72,291.71 242.50,291.77 244.27,291.82 246.05,291.88 247.82,291.93 249.59,291.99 251.37,292.05 253.14,292.11 254.92,292.17 256.69,292.24 258.46,292.30 260.24,292.37 262.01,292.43 263.78,292.50 265.56,292.57 267.33,292.64 269.11,292.71 270.88,292.78 272.65,292.85 274.43,292.92 276.20,293.00 277.97,293.08 279.75,293.15 281.52,293.23 283.29,293.31 285.07,293.40 286.84,293.48 288.61,293.56 290.39,293.65 292.16,293.74 293.93,293.82 295.71,293.91 297.48,294.00 299.25,294.10 301.02,294.19 302.80,294.28 304.57,294.38 306.34,294.47 308.12,294.57 309.89,294.66 311.66,294.76 313.44,294.85 315.21,294.95 316.98,295.05 318.76,295.14 320.53,295.24 322.30,295.34 324.08,295.43 325.85,295.53 327.62,295.62 329.40,295.72 331.17,295.81 332.94,295.90 334.72,296.00 336.49,296.09 338.26,296.18 340.04,296.27 341.81,296.35 343.58,296.44 345.36,296.53 347.13,296.61 348.90,296.69 350.68,296.77 352.45,296.85 354.23,296.93 356.00,297.00 357.77,297.08 359.55,297.15 361.32,297.22 363.10,297.29 364.87,297.36 366.64,297.43 368.42,297.50 370.19,297.57 371.97,297.64 373.74,297.71 375.52,297.78 377.29,297.84 379.06,297.91 380.84,297.98 382.61,298.05 384.39,298.12 386.16,298.19 387.94,298.26 389.71,298.33 391.48,298.41 393.26,298.48 395.03,298.56 396.81,298.63 398.58,298.71 400.35,298.79 402.13,298.87 403.90,298.96 405.67,299.04 407.45,299.13 409.22,299.22 411.00,299.32 412.77,299.41 414.54,299.51 416.31,299.61 418.09,299.70 419.86,299.80 421.63,299.90 423.41,300.00 425.18,300.10 426.95,300.20 428.73,300.30 430.50,300.40 432.28,300.50 434.05,300.61 435.82,300.71 437.59,300.82 439.37,300.93 441.14,301.04 442.91,301.15 444.69,301.27 446.46,301.39 448.23,301.51 450.00,301.63 451.77,301.76 453.54,301.89 455.32,302.03 457.09,302.17 458.86,302.31 460.63,302.46 462.39,302.61 464.16,302.77 465.93,302.93 467.70,303.10 469.47,303.27 471.23,303.45 473.00,303.64 474.76,303.83 476.53,304.03 478.29,304.23 480.06,304.45 481.82,304.66 483.58,304.89 485.34,305.12 487.10,305.35 488.86,305.60 490.62,305.85 492.37,306.11 494.13,306.37 495.88,306.65 497.63,306.93 499.38,307.22 501.13,307.51 502.88,307.81 504.63,308.13 506.38,308.45 508.12,308.77 509.86,309.11 511.60,309.45 513.34,309.80 515.08,310.16 516.82,310.53 518.55,310.90 520.28,311.28 522.01,311.68 523.74,312.07 525.47,312.48 527.19,312.90 528.92,313.32 530.64,313.76 532.36,314.20 534.07,314.65 535.79,315.10 537.50,315.56 539.22,316.03 540.93,316.51 542.64,316.99 544.35,317.47 546.06,317.96 547.77,318.45 549.48,318.94 551.19,319.44 552.90,319.94 554.61,320.44 556.33,320.94 558.04,321.44 559.75,321.94 561.47,322.45 563.18,322.95 564.90,323.45 566.62,323.94 568.34,324.44 570.06,324.94 571.78,325.44 573.50,325.95 575.22,326.46 576.93,326.97 578.65,327.49 580.36,328.02 582.06,328.56 583.76,329.11 585.46,329.68 587.15,330.25 588.84,330.84 590.52,331.44 592.19,332.06 593.86,332.70 595.52,333.35 597.17,334.03 598.81,334.72 600.43,335.44 602.05,336.18 603.64,336.95 605.23,337.75 606.79,338.57 608.33,339.42 609.85,340.31 611.34,341.22 612.81,342.18 614.25,343.16 615.67,344.19 617.05,345.25 618.40,346.35 619.71,347.49 621.00,348.67 622.25,349.88 623.46,351.13 624.64,352.41 625.79,353.73 626.89,355.07 627.97,356.45 629.00,357.86 630.00,359.30 630.97,360.76 631.89,362.26 632.79,363.77 633.65,365.31 634.47,366.87 635.27,368.45 636.03,370.05 636.77,371.66 637.48,373.29 638.15,374.94 638.81,376.59 639.43,378.26 640.04,379.93 640.62,381.62 641.17,383.32 641.71,385.02 642.22,386.73 642.72,388.45 643.19,390.17 643.65,391.90 644.10,393.64 644.52,395.37 644.93,397.11 645.33,398.85 645.72,400.60 646.09,402.35 646.45,404.09 646.80,405.85 647.13,407.60 647.45,409.35 647.77,411.11 648.07,412.87 648.36,414.63 648.64,416.39 648.90,418.15 649.16,419.91 649.41,421.67 649.65,423.44 649.89,425.20 650.11,426.97 650.32,428.73 650.53,430.50 650.73,432.26 650.92,434.03 651.11,435.80 651.28,437.57 651.45,439.34 651.62,441.11 651.78,442.88 651.93,444.65 652.07,446.42 652.22,448.19 652.35,449.96 652.48,451.73 652.61,453.50 652.73,455.27 652.84,457.05 652.96,458.82 653.07,460.59 653.17,462.37 653.27,464.14 653.37,465.91 653.47,467.69 653.56,469.46 653.65,471.23 653.73,473.01 653.81,474.78 653.89,476.55 653.97,478.33 654.04,480.10 654.11,481.88 654.17,483.65 654.24,485.43 654.30,487.20 654.36,488.98 654.41,490.75 654.46,492.53 654.51,494.30 654.56,496.08 654.61,497.85 654.65,499.63 654.69,501.40 654.73,503.18 654.77,504.95 654.80,506.73 654.84,508.50 654.87,510.28 654.90,512.05 654.92,513.83 654.95,515.61 654.97,517.38 655.00,519.16 655.02,520.93 655.04,522.71 655.05,524.48 655.07,526.26 655.09,528.03 655.10,529.81 655.11,531.59 655.13,533.36 655.14,535.14 655.15,536.91 655.16,538.69 655.16,540.47 655.17,542.24 655.18,544.02 655.18,545.79 655.19,547.57 655.20,549.34 655.20,551.12 655.20,552.90 655.21,554.67 655.21,556.45 655.22,558.22 655.22,560.00" fill="none" stroke="#f07c22" stroke-width="2.0" stroke-linejoin="round"/><path d="M53.12,275.07 L53.91,276.72 54.75,278.31 55.72,279.79 56.87,281.12 58.21,282.26 59.71,283.21 61.31,283.97 63.00,284.56 64.75,285.01 66.53,285.35 68.34,285.62 70.15,285.84 71.96,286.03 73.76,286.19 75.56,286.32 77.35,286.42 79.14,286.49 80.94,286.55 82.73,286.60 84.51,286.63 86.30,286.65 88.09,286.67 89.88,286.68 91.67,286.70 93.46,286.72 95.25,286.75 97.04,286.78 98.83,286.82 100.62,286.86 102.41,286.91 104.20,286.95 106.00,287.00 107.79,287.06 109.58,287.11 111.38,287.17 113.17,287.22 114.97,287.28 116.76,287.34 118.56,287.40 120.35,287.46 122.15,287.51 123.94,287.57 125.74,287.62 127.53,287.67 129.32,287.72 131.12,287.77 132.91,287.81 134.71,287.86 136.50,287.90 138.29,287.94 140.09,287.98 141.88,288.01 143.67,288.05 145.47,288.08 147.26,288.12 149.05,288.15 150.85,288.18 152.64,288.22 154.43,288.25 156.23,288.28 158.02,288.31 159.81,288.34 161.61,288.36 163.40,288.39 165.19,288.42 166.99,288.45 168.78,288.48 170.57,288.51 172.36,288.54 174.16,288.57 175.95,288.60 177.74,288.63 179.54,288.66 181.33,288.69 183.12,288.72 184.92,288.76 186.71,288.79 188.50,288.82 190.30,288.85 192.09,288.89 193.88,288.92 195.68,288.96 197.47,288.99 199.26,289.03 201.06,289.07 202.85,289.10 204.64,289.14 206.44,289.18 208.23,289.22 210.03,289.26 211.82,289.30 213.61,289.34 215.41,289.39 217.20,289.43 218.99,289.47 220.79,289.52 222.58,289.56 224.37,289.61 226.17,289.66 227.96,289.70 229.75,289.75 231.55,289.80 233.34,289.85 235.13,289.90 236.93,289.96 238.72,290.01 240.51,290.06 242.31,290.12 244.10,290.18 245.89,290.23 247.69,290.29 249.48,290.35 251.27,290.41 253.06,290.47 254.86,290.54 256.65,290.60 258.44,290.67 260.24,290.73 262.03,290.80 263.82,290.87 265.61,290.94 267.41,291.01 269.20,291.09 270.99,291.16 272.78,291.24 274.57,291.31 276.37,291.39 278.16,291.47 279.95,291.55 281.74,291.63 283.53,291.72 285.33,291.80 287.12,291.89 288.91,291.98 290.70,292.07 292.49,292.16 294.28,292.25 296.08,292.35 297.87,292.44 299.66,292.54 301.45,292.63 303.24,292.73 305.03,292.83 306.82,292.93 308.61,293.03 310.40,293.13 312.20,293.23 313.99,293.33 315.78,293.43 317.57,293.53 319.36,293.63 321.15,293.73 322.94,293.83 324.73,293.93 326.52,294.03 328.31,294.13 330.11,294.23 331.90,294.33 333.69,294.42 335.48,294.52 337.27,294.61 339.06,294.71 340.85,294.80 342.65,294.89 344.44,294.97 346.23,295.06 348.02,295.15 349.81,295.23 351.61,295.31 353.40,295.39 355.19,295.47 356.98,295.54 358.77,295.62 360.57,295.69 362.36,295.76 364.15,295.83 365.95,295.90 367.74,295.97 369.53,296.04 371.32,296.11 373.12,296.17 374.91,296.24 376.70,296.31 378.49,296.37 380.29,296.44 382.08,296.51 383.87,296.58 385.67,296.64 387.46,296.71 389.25,296.78 391.04,296.85 392.83,296.92 394.63,297.00 396.42,297.07 398.21,297.15 400.00,297.22 401.79,297.30 403.59,297.38 405.38,297.46 407.17,297.55 408.96,297.64 410.75,297.73 412.54,297.82 414.33,297.91 416.12,298.01 417.91,298.12 419.70,298.22 421.49,298.34 423.28,298.46 425.07,298.58 426.86,298.71 428.64,298.84 430.43,298.98 432.22,299.12 434.01,299.26 435.79,299.41 437.58,299.56 439.37,299.71 441.15,299.86 442.94,300.01 444.73,300.17 446.51,300.32 448.30,300.48 450.08,300.63 451.87,300.78 453.66,300.94 455.44,301.09 457.23,301.24 459.01,301.39 460.80,301.53 462.59,301.68 464.37,301.82 466.16,301.97 467.94,302.12 469.73,302.27 471.51,302.43 473.30,302.60 475.08,302.77 476.86,302.95 478.65,303.14 480.43,303.33 482.21,303.54 483.99,303.75 485.76,303.97 487.54,304.19 489.32,304.43 491.09,304.67 492.87,304.92 494.64,305.18 496.41,305.45 498.18,305.73 499.95,306.02 501.72,306.31 503.48,306.62 505.25,306.93 507.01,307.26 508.77,307.59 510.53,307.93 512.29,308.28 514.05,308.64 515.80,309.01 517.55,309.38 519.30,309.76 521.05,310.15 522.80,310.55 524.55,310.96 526.29,311.37 528.04,311.79 529.78,312.22 531.52,312.66 533.26,313.10 534.99,313.55 536.73,314.00 538.46,314.46 540.20,314.92 541.93,315.39 543.66,315.87 545.39,316.34 547.12,316.82 548.85,317.30 550.58,317.79 552.31,318.27 554.04,318.76 555.78,319.25 557.51,319.74 559.24,320.23 560.97,320.72 562.71,321.20 564.44,321.69 566.18,322.17 567.92,322.66 569.65,323.14 571.39,323.63 573.13,324.12 574.86,324.61 576.60,325.11 578.33,325.61 580.06,326.12 581.79,326.64 583.51,327.17 585.23,327.71 586.95,328.25 588.66,328.81 590.37,329.39 592.08,329.97 593.77,330.57 595.47,331.19 597.15,331.82 598.83,332.47 600.50,333.14 602.16,333.84 603.81,334.55 605.45,335.29 607.08,336.05 608.69,336.84 610.28,337.65 611.85,338.50 613.41,339.37 614.95,340.27 616.46,341.21 617.96,342.18 619.43,343.19 620.87,344.23 622.29,345.30 623.69,346.40 625.06,347.54 626.39,348.71 627.70,349.91 628.98,351.14 630.23,352.41 631.45,353.70 632.63,355.02 633.78,356.38 634.90,357.76 635.98,359.17 637.03,360.60 638.04,362.07 639.02,363.55 639.96,365.06 640.86,366.60 641.73,368.15 642.55,369.73 643.34,371.33 644.10,372.94 644.82,374.58 645.50,376.23 646.16,377.89 646.78,379.57 647.37,381.26 647.93,382.97 648.46,384.68 648.96,386.41 649.44,388.14 649.89,389.88 650.31,391.63 650.71,393.38 651.09,395.14 651.45,396.90 651.79,398.67 652.11,400.45 652.41,402.23 652.70,404.01 652.97,405.79 653.22,407.58 653.46,409.36 653.69,411.15 653.91,412.94 654.11,414.73 654.30,416.52 654.48,418.31 654.66,420.11 654.82,421.90 654.98,423.69 655.13,425.49 655.27,427.28 655.40,429.07 655.53,430.87 655.66,432.66 655.78,434.46 655.89,436.25 656.00,438.04 656.10,439.84 656.20,441.63 656.30,443.42 656.39,445.22 656.47,447.01 656.55,448.80 656.63,450.59 656.71,452.39 656.78,454.18 656.84,455.97 656.91,457.77 656.97,459.56 657.03,461.35 657.08,463.15 657.13,464.94 657.18,466.73 657.23,468.53 657.27,470.32 657.31,472.11 657.35,473.91 657.38,475.70 657.41,477.49 657.44,479.29 657.47,481.08 657.49,482.87 657.51,484.67 657.53,486.46 657.54,488.25 657.56,490.05 657.57,491.84 657.57,493.63 657.58,495.43 657.58,497.22 657.58,499.01 657.57,500.81 657.57,502.60 657.56,504.40 657.55,506.19 657.53,507.98 657.52,509.78 657.50,511.57 657.49,513.36 657.47,515.16 657.45,516.95 657.43,518.74 657.40,520.54 657.38,522.33 657.35,524.13 657.33,525.92 657.30,527.71 657.28,529.51 657.25,531.30 657.22,533.09 657.20,534.89 657.17,536.68 657.14,538.47 657.11,540.27 657.09,542.06 657.06,543.86 657.04,545.65 657.01,547.44 656.99,549.24 656.96,551.03 656.94,552.82 656.92,554.62 656.90,556.41 656.88,558.21 656.86,560.00" fill="none" stroke="#1b3a78" stroke-width="2.0" stroke-linejoin="round"/>
</g>
<rect x="51.5" y="172.4" width="714.5" height="381.6" fill="none" stroke="#aaaaaa" stroke-width="2.4"/>
<text transform="translate(44.2,561.10) scale(0.86,1)" text-anchor="end" class="ax">7</text><text transform="translate(44.2,507.30) scale(0.86,1)" text-anchor="end" class="ax">8</text><text transform="translate(44.2,452.30) scale(0.86,1)" text-anchor="end" class="ax">9</text><text transform="translate(44.2,397.30) scale(0.86,1)" text-anchor="end" class="ax">10</text><text transform="translate(44.2,342.30) scale(0.86,1)" text-anchor="end" class="ax">11</text><text transform="translate(44.2,287.30) scale(0.86,1)" text-anchor="end" class="ax">12</text><text transform="translate(44.2,232.30) scale(0.86,1)" text-anchor="end" class="ax">13</text><text transform="translate(44.2,177.30) scale(0.86,1)" text-anchor="end" class="ax">14</text>
<text transform="translate(50.80,574.6) scale(0.86,1)" text-anchor="middle" class="ax">0</text><text transform="translate(172.60,574.6) scale(0.86,1)" text-anchor="middle" class="ax">20%</text><text transform="translate(292.60,574.6) scale(0.86,1)" text-anchor="middle" class="ax">40%</text><text transform="translate(412.60,574.6) scale(0.86,1)" text-anchor="middle" class="ax">60%</text><text transform="translate(532.60,574.6) scale(0.86,1)" text-anchor="middle" class="ax">80%</text><text transform="translate(652.60,574.6) scale(0.86,1)" text-anchor="middle" class="ax">100%</text>
<text x="326.5" y="609.9" style="font-size:16.2px;fill:#2a2a2a" textLength="151" lengthAdjust="spacingAndGlyphs">Discharge Capacity(Ah)</text>
<text x="160.5" y="646.6" style="font-size:21px;fill:#111;stroke:#111;stroke-width:0.35px" textLength="236.5" lengthAdjust="spacingAndGlyphs">Excellent performance even at</text>
<text x="401.6" y="646.5" style="font-size:23.5px;fill:#1818f2;stroke:#1818f2;stroke-width:0.25px" textLength="30" lengthAdjust="spacingAndGlyphs">-20</text>
<circle cx="436.6" cy="630.5" r="2.55" fill="none" stroke="#1818f2" stroke-width="1.7"/>
<text x="439.2" y="646.8" style="font-size:26.3px;fill:#1818f2;stroke:#1818f2;stroke-width:0.3px" textLength="16" lengthAdjust="spacingAndGlyphs">C</text>
<text x="462" y="646.6" style="font-size:21px;fill:#111;stroke:#111;stroke-width:0.35px" textLength="137.5" lengthAdjust="spacingAndGlyphs">(as shown above)</text>
</svg>
</body></html>
